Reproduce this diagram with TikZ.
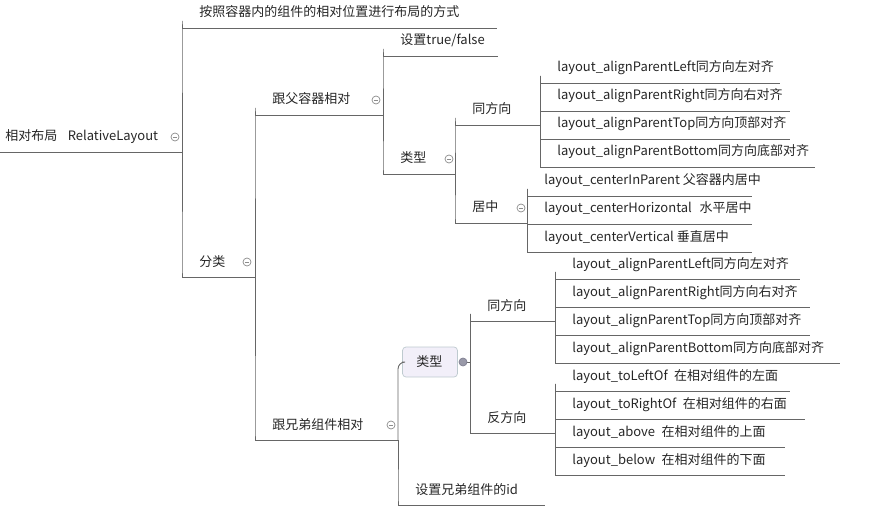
\documentclass[tikz,border=0pt]{standalone}
\usepackage{fontspec}
\setmainfont{Noto Sans CJK SC}
\tikzset{
  txt/.style={anchor=base west,inner sep=0pt,font=\fontsize{7.4}{9}\selectfont,text=black!85},
  uline/.style={draw=black!60,line width=0.5pt},
  link/.style={draw=black!60,line width=0.5pt,rounded corners=4pt},
  fold/.style={draw=black!45,fill=white,line width=0.4pt},
}
% \topic{name}{x}{y}{length}{text}: text with its underline
\newcommand{\topic}[5]{%
  \node[txt] (#1) at (#2+17,#3) {#5};
  \coordinate (#1-s) at (#2,#3+11);
  \coordinate (#1-e) at (#2+#4,#3+11);
  \draw[uline] (#1-s) -- (#1-e);}
\newcommand{\foldmark}[2]{%
  \draw[fold] (#1,#2) circle (4); \draw[black!45,line width=0.4pt] (#1-2.2,#2) -- (#1+2.2,#2);}
\begin{document}
\begin{tikzpicture}[x=0.02cm,y=-0.02cm]
\useasboundingbox (0,0) rectangle (874,506);
% root
\topic{root}{-12}{141}{194}{相对布局\hspace{0.8em}RelativeLayout}
\foldmark{175}{137}
\topic{way}{182}{17}{315}{按照容器内的组件的相对位置进行布局的方式}
\topic{cls}{182}{266}{73}{分类}
\foldmark{247}{262}
\draw[link] (root-e) |- (way-s);
\draw[link] (root-e) |- (cls-s);
% parent container
\topic{par}{255}{104}{128}{跟父容器相对}
\foldmark{376}{100}
\topic{sib}{255}{429}{143}{跟兄弟组件相对}
\foldmark{391}{425}
\draw[link] (cls-e) |- (par-s);
\draw[link] (cls-e) |- (sib-s);
\topic{tf}{383}{45}{115}{设置true/false}
\topic{ptype}{383}{163}{72}{类型}
\foldmark{449}{159}
\draw[link] (par-e) |- (tf-s);
\draw[link] (par-e) |- (ptype-s);
\topic{psame}{455}{114}{85}{同方向}
\topic{pmid}{455}{212}{72}{居中}
\foldmark{521}{208}
\draw[link] (ptype-e) |- (psame-s);
\draw[link] (ptype-e) |- (pmid-s);
\topic{pa}{540}{72}{240}{layout\_alignParentLeft同方向左对齐}
\topic{pb}{540}{100}{250}{layout\_alignParentRight同方向右对齐}
\topic{pc}{540}{128}{250}{layout\_alignParentTop同方向顶部对齐}
\topic{pd}{540}{156}{275}{layout\_alignParentBottom同方向底部对齐}
\foreach \n in {pa,pb,pc,pd} \draw[link] (psame-e) |- (\n-s);
\topic{ma}{527}{185}{225}{layout\_centerInParent 父容器内居中}
\topic{mb}{527}{213}{225}{layout\_centerHorizontal\hspace{0.6em}水平居中}
\topic{mc}{527}{241}{225}{layout\_centerVertical 垂直居中}
\foreach \n in {ma,mb,mc} \draw[link] (pmid-e) |- (\n-s);
% sibling
\node[draw=cyan!30!black!30,fill=cyan!6!blue!5,rounded corners=2pt,inner sep=0pt,minimum width=1.1cm,minimum height=0.6cm] (stbox) at (430,362) {};
\node[txt] (stype) at (416,366) {类型};
\coordinate (stype-e) at (470,362);
\draw[link] (stype-e) -- (463,362);
\draw[fill=blue!15!black!40,draw=blue!15!black!50] (463,362) circle (4);
\topic{sid}{398}{494}{147}{设置兄弟组件的id}
\draw[link] (sib-e) |- (stbox.west);
\draw[link] (sib-e) |- (sid-s);
\topic{ssame}{470}{310}{85}{同方向}
\topic{sopp}{470}{422}{85}{反方向}
\draw[link] (stype-e) |- (ssame-s);
\draw[link] (stype-e) |- (sopp-s);
\topic{sa}{555}{268}{245}{layout\_alignParentLeft同方向左对齐}
\topic{sb}{555}{296}{255}{layout\_alignParentRight同方向右对齐}
\topic{sc}{555}{324}{255}{layout\_alignParentTop同方向顶部对齐}
\topic{sd}{555}{352}{285}{layout\_alignParentBottom同方向底部对齐}
\foreach \n in {sa,sb,sc,sd} \draw[link] (ssame-e) |- (\n-s);
\topic{oa}{555}{380}{235}{layout\_toLeftOf\hspace{0.5em}在相对组件的左面}
\topic{ob}{555}{408}{250}{layout\_toRightOf\hspace{0.5em}在相对组件的右面}
\topic{oc}{555}{436}{230}{layout\_above\hspace{0.5em}在相对组件的上面}
\topic{od}{555}{464}{230}{layout\_below\hspace{0.5em}在相对组件的下面}
\foreach \n in {oa,ob,oc,od} \draw[link] (sopp-e) |- (\n-s);
\end{tikzpicture}
\end{document}
